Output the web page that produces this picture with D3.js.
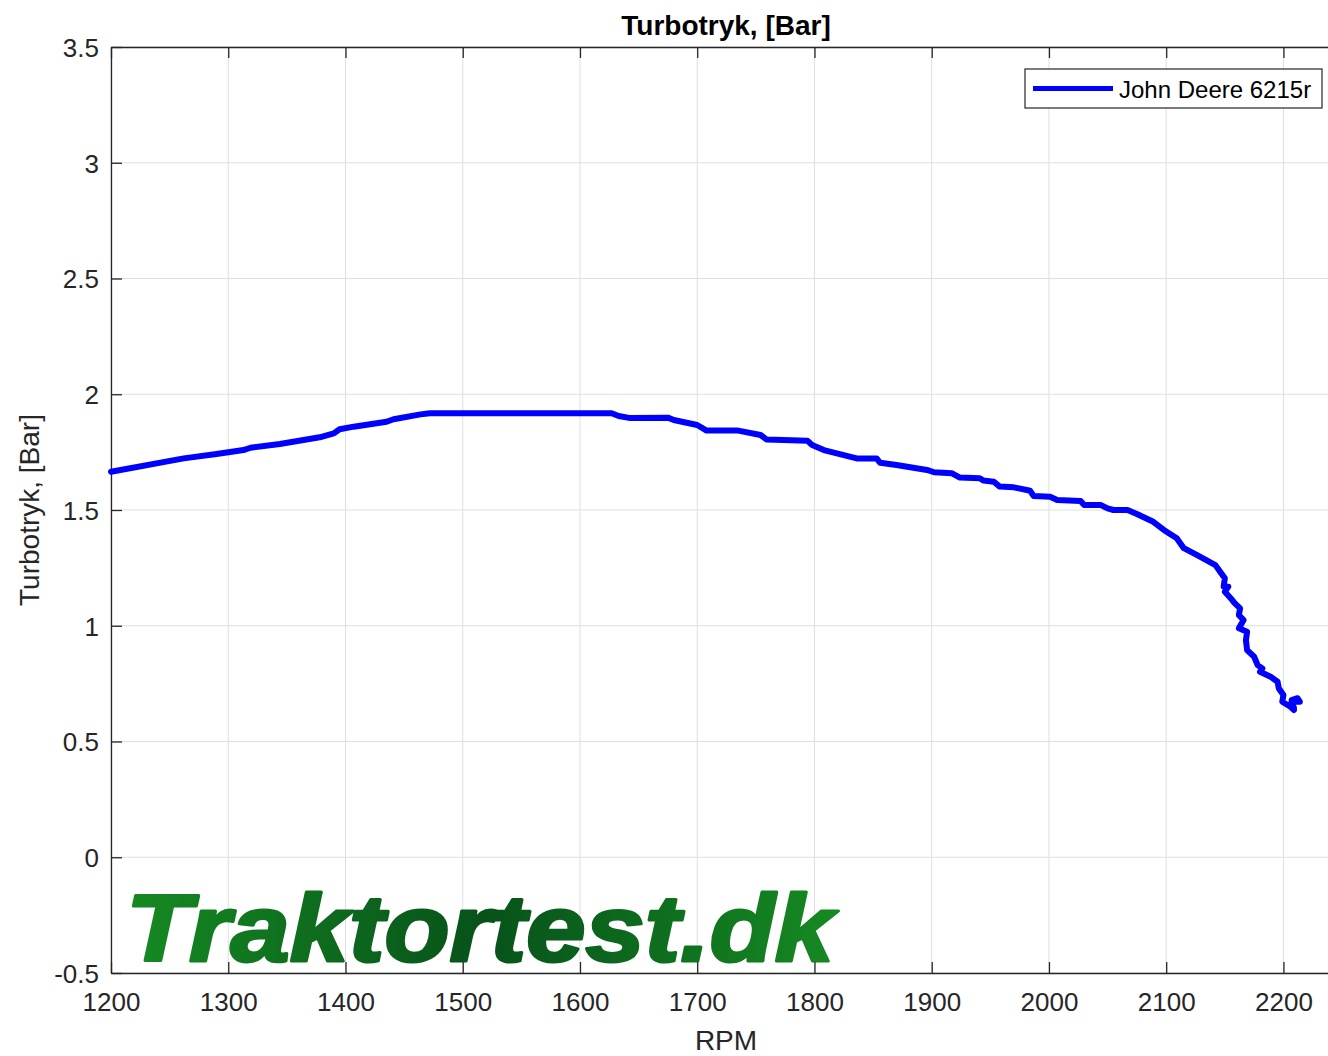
<!DOCTYPE html>
<html>
<head>
<meta charset="utf-8">
<script src="https://cdn.jsdelivr.net/npm/d3@7"></script>
<style>
  body { margin: 0; background: #fff; }
  svg { display: block; font-family: "Liberation Sans", Arial, sans-serif; }
</style>
</head>
<body>
<svg id="chart" width="1328" height="1056"></svg>
<script>
// --- data ---
const seriesName = "John Deere 6215r";
const rpm = [1200, 1262, 1290, 1313, 1319, 1344, 1378, 1390, 1395, 1407, 1435, 1441, 1464, 1472,
  1627, 1633, 1643, 1675, 1680, 1700, 1708, 1735, 1754, 1759, 1794, 1798, 1808, 1836, 1853,
  1856, 1870, 1896, 1902, 1917, 1924, 1941, 1944, 1953, 1958, 1970, 1984, 1987, 2001, 2007,
  2027, 2030, 2044, 2050, 2055, 2067, 2075, 2089, 2098, 2109, 2115, 2126, 2142, 2146, 2150,
  2149, 2153, 2150, 2155, 2158, 2163, 2162, 2166, 2162, 2169, 2168, 2169, 2175, 2178, 2182,
  2180, 2189, 2195, 2196, 2200, 2199, 2206, 2209, 2207, 2214, 2212, 2207, 2209];
const boost = [1.665, 1.723, 1.742, 1.759, 1.769, 1.785, 1.814, 1.831, 1.849, 1.860, 1.881, 1.892, 1.913, 1.918,
  1.918, 1.906, 1.897, 1.899, 1.889, 1.867, 1.843, 1.843, 1.824, 1.805, 1.799, 1.781, 1.759, 1.723, 1.723,
  1.704, 1.694, 1.673, 1.663, 1.659, 1.640, 1.637, 1.627, 1.622, 1.601, 1.598, 1.583, 1.560, 1.557, 1.543,
  1.539, 1.522, 1.522, 1.507, 1.500, 1.500, 1.483, 1.449, 1.414, 1.378, 1.335, 1.306, 1.262, 1.233, 1.205,
  1.169, 1.169, 1.147, 1.119, 1.100, 1.075, 1.046, 1.025, 0.989, 0.974, 0.938, 0.895, 0.866, 0.830, 0.816,
  0.801, 0.780, 0.758, 0.730, 0.701, 0.672, 0.650, 0.636, 0.672, 0.672, 0.687, 0.679, 0.643];
const xTicks = [1200, 1300, 1400, 1500, 1600, 1700, 1800, 1900, 2000, 2100, 2200];
const yTicks = [-0.5, 0, 0.5, 1, 1.5, 2, 2.5, 3, 3.5];
const yTickLabels = ["-0.5", "0", "0.5", "1", "1.5", "2", "2.5", "3", "3.5"];

// --- layout ---
const plot = { left: 111, right: 1328, top: 47, bottom: 973 };
const axisColor = "#262626";
const gridColor = "#dfdfdf";

const svg = d3.select("#chart");

const x = d3.scaleLinear().domain([1200, 2238]).range([plot.left, plot.right]);
const y = d3.scaleLinear().domain([-0.5, 3.5]).range([plot.bottom, plot.top]);

// grid
const grid = svg.append("g");
grid.selectAll("line.gx").data(xTicks).join("line")
  .attr("x1", d => x(d)).attr("x2", d => x(d))
  .attr("y1", plot.top).attr("y2", plot.bottom)
  .attr("stroke", gridColor).attr("stroke-width", 1);
grid.selectAll("line.gy").data(yTicks).join("line")
  .attr("y1", d => y(d)).attr("y2", d => y(d))
  .attr("x1", plot.left).attr("x2", plot.right)
  .attr("stroke", gridColor).attr("stroke-width", 1);

// watermark
const defs = svg.append("defs");
const grad = defs.append("linearGradient").attr("id", "wm")
  .attr("x1", "0%").attr("x2", "100%").attr("y1", "0%").attr("y2", "0%");
grad.append("stop").attr("offset", "0%").attr("stop-color", "#168a22");
grad.append("stop").attr("offset", "50%").attr("stop-color", "#07521a");
grad.append("stop").attr("offset", "100%").attr("stop-color", "#168a22");

svg.append("text")
  .attr("x", 126).attr("y", 961)
  .attr("font-size", 94).attr("font-weight", "bold").attr("font-style", "italic")
  .attr("textLength", 708).attr("lengthAdjust", "spacingAndGlyphs")
  .attr("fill", "url(#wm)")
  .attr("stroke", "url(#wm)").attr("stroke-width", 3).attr("stroke-linejoin", "round")
  .text("Traktortest.dk");

// axes with inward ticks
const xAxisB = d3.axisBottom(x).tickValues(xTicks).tickSizeInner(-11).tickSizeOuter(0).tickFormat(d3.format("d"));
const xAxisT = d3.axisTop(x).tickValues(xTicks).tickSizeInner(-11).tickSizeOuter(0).tickFormat("");
const yAxisL = d3.axisLeft(y).tickValues(yTicks).tickSizeInner(-11).tickSizeOuter(0)
  .tickFormat((d, i) => yTickLabels[i]);

const gB = svg.append("g").attr("transform", `translate(0,${plot.bottom})`).call(xAxisB);
const gT = svg.append("g").attr("transform", `translate(0,${plot.top})`).call(xAxisT);
const gL = svg.append("g").attr("transform", `translate(${plot.left},0)`).call(yAxisL);

[gB, gT, gL].forEach(g => {
  g.select(".domain").attr("stroke", axisColor).attr("stroke-width", 1.3);
  g.selectAll(".tick line").attr("stroke", axisColor).attr("stroke-width", 1.3);
  g.selectAll(".tick text").attr("fill", axisColor).attr("font-size", 26)
    .attr("font-family", "Liberation Sans, Arial, sans-serif");
});
gB.selectAll(".tick text").attr("y", 20).attr("dy", "0.71em");
gL.selectAll(".tick text").attr("x", -12).attr("dy", "0.36em");

// series line
const line = d3.line().x((d, i) => x(rpm[i])).y((d, i) => y(boost[i]));
svg.append("path")
  .datum(boost)
  .attr("d", line)
  .attr("fill", "none")
  .attr("stroke", "#0000ff")
  .attr("stroke-width", 6)
  .attr("stroke-linejoin", "round")
  .attr("stroke-linecap", "round");

// title and labels
svg.append("text")
  .attr("x", 726).attr("y", 35).attr("text-anchor", "middle")
  .attr("font-size", 28).attr("font-weight", "bold").attr("fill", "#000")
  .text("Turbotryk, [Bar]");

svg.append("text")
  .attr("x", 726).attr("y", 1050).attr("text-anchor", "middle")
  .attr("font-size", 28).attr("fill", axisColor)
  .text("RPM");

svg.append("text")
  .attr("transform", "translate(39,510) rotate(-90)")
  .attr("text-anchor", "middle")
  .attr("font-size", 28).attr("fill", axisColor)
  .text("Turbotryk, [Bar]");

// legend
const legend = svg.append("g").attr("transform", "translate(1025,69)");
legend.append("rect")
  .attr("width", 297).attr("height", 39)
  .attr("fill", "#fff").attr("stroke", axisColor).attr("stroke-width", 1.2);
legend.append("line")
  .attr("x1", 8).attr("x2", 88).attr("y1", 19.5).attr("y2", 19.5)
  .attr("stroke", "#0000ff").attr("stroke-width", 5);
legend.append("text")
  .attr("x", 94).attr("y", 20).attr("dy", "0.36em")
  .attr("font-size", 24).attr("fill", "#000")
  .text(seriesName);
</script>
</body>
</html>
